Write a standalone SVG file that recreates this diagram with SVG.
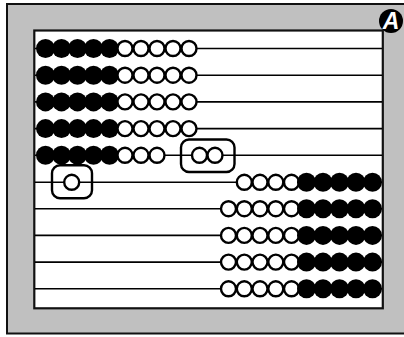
<svg xmlns="http://www.w3.org/2000/svg" width="404" height="337" viewBox="0 0 404 337">
<style>
.rod{stroke:#000;stroke-width:1.6}
.w{fill:#fff;stroke:#000;stroke-width:2.4}
.b{fill:#000}
.box{fill:none;stroke:#000;stroke-width:2.4}
</style>
<defs>
<circle id="wb" class="w" r="7.5"/>
<circle id="bb" class="b" r="9.5"/>
</defs>
<g id="frame">
<rect x="7" y="4" width="420" height="329.5" fill="#c0c0c0" stroke="#111" stroke-width="2"/>
<rect x="34.3" y="30.5" width="348.5" height="277.8" fill="#fff" stroke="#111" stroke-width="2.2"/>
</g>
<g id="rods">
<line class="rod" x1="35" y1="48.5" x2="382" y2="48.5"/>
<line class="rod" x1="35" y1="75.2" x2="382" y2="75.2"/>
<line class="rod" x1="35" y1="101.9" x2="382" y2="101.9"/>
<line class="rod" x1="35" y1="128.6" x2="382" y2="128.6"/>
<line class="rod" x1="35" y1="155.3" x2="382" y2="155.3"/>
<line class="rod" x1="35" y1="182.3" x2="382" y2="182.3"/>
<line class="rod" x1="35" y1="208.7" x2="382" y2="208.7"/>
<line class="rod" x1="35" y1="235.4" x2="382" y2="235.4"/>
<line class="rod" x1="35" y1="262.1" x2="382" y2="262.1"/>
<line class="rod" x1="35" y1="288.8" x2="382" y2="288.8"/>
</g>
<g id="row1" transform="translate(0,48.5)">
<use href="#bb" x="45.5"/><use href="#bb" x="61.5"/><use href="#bb" x="77.5"/><use href="#bb" x="93.5"/><use href="#bb" x="109.5"/>
<use href="#wb" x="125"/><use href="#wb" x="141"/><use href="#wb" x="157"/><use href="#wb" x="173"/><use href="#wb" x="189"/>
</g>
<g id="row2" transform="translate(0,75.2)">
<use href="#bb" x="45.5"/><use href="#bb" x="61.5"/><use href="#bb" x="77.5"/><use href="#bb" x="93.5"/><use href="#bb" x="109.5"/>
<use href="#wb" x="125"/><use href="#wb" x="141"/><use href="#wb" x="157"/><use href="#wb" x="173"/><use href="#wb" x="189"/>
</g>
<g id="row3" transform="translate(0,101.9)">
<use href="#bb" x="45.5"/><use href="#bb" x="61.5"/><use href="#bb" x="77.5"/><use href="#bb" x="93.5"/><use href="#bb" x="109.5"/>
<use href="#wb" x="125"/><use href="#wb" x="141"/><use href="#wb" x="157"/><use href="#wb" x="173"/><use href="#wb" x="189"/>
</g>
<g id="row4" transform="translate(0,128.6)">
<use href="#bb" x="45.5"/><use href="#bb" x="61.5"/><use href="#bb" x="77.5"/><use href="#bb" x="93.5"/><use href="#bb" x="109.5"/>
<use href="#wb" x="125"/><use href="#wb" x="141"/><use href="#wb" x="157"/><use href="#wb" x="173"/><use href="#wb" x="189"/>
</g>
<g id="row5" transform="translate(0,155.3)">
<use href="#bb" x="45.5"/><use href="#bb" x="61.5"/><use href="#bb" x="77.5"/><use href="#bb" x="93.5"/><use href="#bb" x="109.5"/>
<use href="#wb" x="125"/><use href="#wb" x="141"/><use href="#wb" x="157"/>
<rect class="box" x="181" y="-15.8" width="53.5" height="32.5" rx="8"/>
<use href="#wb" x="199.5"/><use href="#wb" x="215"/>
</g>
<g id="row6" transform="translate(0,182.3)">
<rect class="box" x="52" y="-17" width="40" height="33" rx="8"/>
<use href="#wb" x="71.7"/>
<use href="#wb" x="244.3"/><use href="#wb" x="260"/><use href="#wb" x="275.8"/><use href="#wb" x="291.5"/>
<use href="#bb" x="306.5"/><use href="#bb" x="323"/><use href="#bb" x="339.5"/><use href="#bb" x="356"/><use href="#bb" x="372.5"/>
</g>
<g id="row7" transform="translate(0,208.7)">
<use href="#wb" x="228.5"/><use href="#wb" x="244.3"/><use href="#wb" x="260"/><use href="#wb" x="275.8"/><use href="#wb" x="291.5"/>
<use href="#bb" x="306.5"/><use href="#bb" x="323"/><use href="#bb" x="339.5"/><use href="#bb" x="356"/><use href="#bb" x="372.5"/>
</g>
<g id="row8" transform="translate(0,235.4)">
<use href="#wb" x="228.5"/><use href="#wb" x="244.3"/><use href="#wb" x="260"/><use href="#wb" x="275.8"/><use href="#wb" x="291.5"/>
<use href="#bb" x="306.5"/><use href="#bb" x="323"/><use href="#bb" x="339.5"/><use href="#bb" x="356"/><use href="#bb" x="372.5"/>
</g>
<g id="row9" transform="translate(0,262.1)">
<use href="#wb" x="228.5"/><use href="#wb" x="244.3"/><use href="#wb" x="260"/><use href="#wb" x="275.8"/><use href="#wb" x="291.5"/>
<use href="#bb" x="306.5"/><use href="#bb" x="323"/><use href="#bb" x="339.5"/><use href="#bb" x="356"/><use href="#bb" x="372.5"/>
</g>
<g id="row10" transform="translate(0,288.8)">
<use href="#wb" x="228.5"/><use href="#wb" x="244.3"/><use href="#wb" x="260"/><use href="#wb" x="275.8"/><use href="#wb" x="291.5"/>
<use href="#bb" x="306.5"/><use href="#bb" x="323"/><use href="#bb" x="339.5"/><use href="#bb" x="356"/><use href="#bb" x="372.5"/>
</g>
<g id="badge">
<circle cx="391" cy="21" r="12" fill="#000"/>
<text x="391" y="29" text-anchor="middle" font-family="Liberation Sans, Arial, sans-serif" font-size="23" font-weight="bold" font-style="italic" fill="#fff">A</text>
</g>
</svg>
